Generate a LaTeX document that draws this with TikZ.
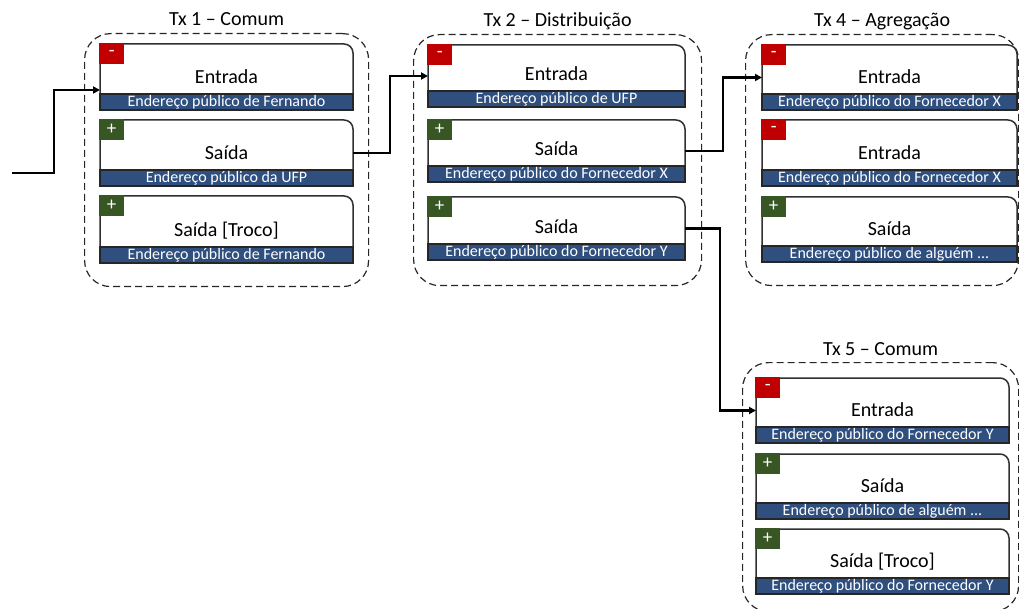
\documentclass[tikz,border=0pt]{standalone}
\usepackage{fontspec}
\setmainfont{Carlito}
\usetikzlibrary{arrows.meta,calc}

\definecolor{minusred}{HTML}{C00000}
\definecolor{plusgreen}{HTML}{375623}
\definecolor{addrblue}{HTML}{2F4F7F}
\definecolor{cardedge}{HTML}{303030}

\tikzset{
  x=1pt, y=1pt,
  txgroup/.style={draw=black!85, dash pattern=on 7pt off 4pt, line width=1.2pt,
    rounded corners=26pt, anchor=north west, inner sep=0},
  grouptitle/.style={font=\fontsize{20}{22}\selectfont, anchor=base, inner sep=0},
  cardhit/.style={inner sep=0, outer sep=0, anchor=north west},
  cardline/.style={draw=cardedge, line width=1.5pt},
  addrbar/.style={fill=addrblue, draw=black!85, line width=1.4pt},
  addrtext/.style={text=white, font=\fontsize{16}{18}\selectfont, anchor=base, inner sep=0},
  labeltext/.style={font=\fontsize{20}{22}\selectfont, anchor=base, inner sep=0},
  badgeminus/.style={fill=minusred},
  badgeplus/.style={fill=plusgreen},
  badgebox/.style={inner sep=0, minimum width=25, minimum height=21, anchor=north west,
    text=white, font=\fontsize{19}{20}\selectfont},
  link/.style={line width=2.3pt, -{Triangle[length=7pt,width=7pt]}},
}

\newcommand\signminus{-}
\newcommand\signplus{+}

% #1 name, #2 left x, #3 top y, #4 width, #5 height, #6 minus/plus, #7 label, #8 address
\newcommand\txcard[8]{%
  \node[cardhit, minimum width=#4, minimum height=#5] (#1) at (#2,#3) {};
  \draw[cardline] ([yshift=16pt]#1.south west) -- (#1.north west)
    -- ([xshift=-9pt]#1.north east) arc[start angle=90, end angle=0, radius=9pt]
    -- ([yshift=16pt]#1.south east);
  \draw[addrbar] (#1.south west) rectangle ([yshift=16pt]#1.south east);
  \node[addrtext] (#1-addr) at ([yshift=3.6pt]#1.south) {#8};
  \node[labeltext] (#1-label) at ([yshift=26.5pt]#1.south) {#7};
  \node[badgebox, badge#6] (#1-badge) at ([xshift=-1pt,yshift=1pt]#1.north west)
    {\csname sign#6\endcsname};
}

\begin{document}
\begin{tikzpicture}
\useasboundingbox (0,0) rectangle (1019,-609);

% transaction groups
\node[txgroup, minimum width=284, minimum height=253] (g1) at (84,-33) {};
\node[txgroup, minimum width=288, minimum height=251] (g2) at (413,-34) {};
\node[txgroup, minimum width=273, minimum height=251] (g4) at (745,-34) {};
\node[txgroup, minimum width=276, minimum height=249] (g5) at (742,-362) {};

\node[grouptitle] (g1-title) at ([yshift=7pt]g1.north) {Tx 1 – Comum};
\node[grouptitle] (g2-title) at ([yshift=7pt]g2.north) {Tx 2 – Distribuição};
\node[grouptitle] (g4-title) at ([yshift=7pt]g4.north) {Tx 4 – Agregação};
\node[grouptitle] (g5-title) at ([yshift=7pt]g5.north) {Tx 5 – Comum};

% Tx 1
\txcard{c11}{100}{-44}{253}{66}{minus}{Entrada}{Endereço público de Fernando}
\txcard{c12}{100}{-120}{253}{66}{plus}{Saída}{Endereço público da UFP}
\txcard{c13}{100}{-196}{253}{67}{plus}{Saída [Troco]}{Endereço público de Fernando}

% Tx 2
\txcard{c21}{428}{-45}{257}{62}{minus}{Entrada}{Endereço público de UFP}
\txcard{c22}{428}{-120}{257}{62}{plus}{Saída}{Endereço público do Fornecedor X}
\txcard{c23}{428}{-197}{257}{63}{plus}{Saída}{Endereço público do Fornecedor Y}

% Tx 4
\txcard{c41}{762}{-45}{255}{65}{minus}{Entrada}{Endereço público do Fornecedor X}
\txcard{c42}{762}{-120}{255}{66}{minus}{Entrada}{Endereço público do Fornecedor X}
\txcard{c43}{762}{-197}{255}{65}{plus}{Saída}{Endereço público de alguém ...}

% Tx 5
\txcard{c51}{756}{-378}{253}{65}{minus}{Entrada}{Endereço público do Fornecedor Y}
\txcard{c52}{756}{-454}{253}{65}{plus}{Saída}{Endereço público de alguém ...}
\txcard{c53}{756}{-529}{253}{65}{plus}{Saída [Troco]}{Endereço público do Fornecedor Y}

% spending links
\coordinate (start) at (12,-173);
\draw[link] (start) -- ++(42,0) |- ([yshift=-13pt]c11.west);
\draw[link] (c12.east) -- ++(37,0) |- (c21.west);
\draw[link] (c22.east) -- ++(38,0) |- (c41.west);
\draw[link] (c23.east) -- ++(35,0) |- (c51.west);
\end{tikzpicture}
\end{document}
